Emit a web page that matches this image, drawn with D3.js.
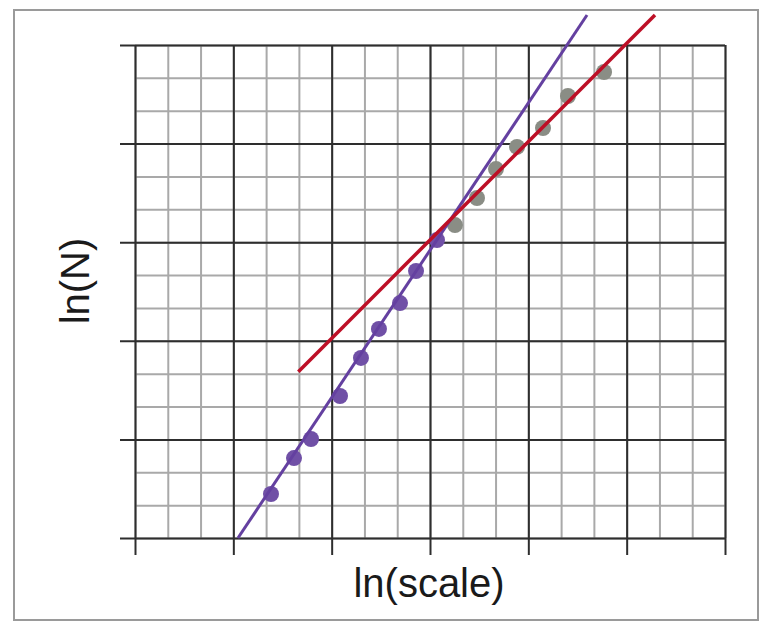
<!DOCTYPE html>
<html>
<head>
<meta charset="utf-8">
<script src="https://cdn.jsdelivr.net/npm/d3@7"></script>
<style>
  html, body { margin: 0; padding: 0; background: #fff; }
  svg { display: block; }
</style>
</head>
<body>
<svg id="chart" width="760" height="621"></svg>
<script>
// ---- data ----
const xMajorTicks = [0, 1, 2, 3, 4, 5, 6];
const yMajorTicks = [0, 1, 2, 3, 4, 5];
const xMinorTicks = d3.range(0, 19).map(i => i / 3);
const yMinorTicks = d3.range(0, 16).map(i => i / 3);

const smallScaleX = [1.383, 1.617, 1.790, 2.085, 2.298, 2.481, 2.695, 2.858, 3.071];
const smallScaleY = [0.446, 0.811, 1.004, 1.440, 1.826, 2.120, 2.383, 2.708, 3.022];

const largeScaleX = [3.254, 3.478, 3.671, 3.885, 4.149, 4.403, 4.770];
const largeScaleY = [3.174, 3.448, 3.742, 3.966, 4.158, 4.483, 4.726];

const purpleFitX = [1.047, 4.597];
const purpleFitY = [0.000, 5.304];
const redFitX = [1.661, 5.288];
const redFitY = [1.687, 5.304];

const xLabel = "ln(scale)";
const yLabel = "ln(N)";

// ---- layout ----
const svg = d3.select("#chart");
const pLeft = 135, pRight = 725, pTop = 45, pBottom = 538;
const x = d3.scaleLinear().domain([0, 6]).range([pLeft, pRight]);
const y = d3.scaleLinear().domain([0, 5]).range([pBottom, pTop]);

// frame
svg.append("rect")
  .attr("x", 14).attr("y", 10).attr("width", 744).attr("height", 610)
  .attr("fill", "#fff").attr("stroke", "#9a9a9a").attr("stroke-width", 2);

// minor grid
const minorX = svg.append("g").attr("transform", `translate(0,${pBottom})`)
  .call(d3.axisBottom(x).tickValues(xMinorTicks).tickSize(-(pBottom - pTop)).tickFormat(""));
const minorY = svg.append("g").attr("transform", `translate(${pLeft},0)`)
  .call(d3.axisLeft(y).tickValues(yMinorTicks).tickSize(-(pRight - pLeft)).tickFormat(""));
[minorX, minorY].forEach(g => {
  g.select(".domain").remove();
  g.selectAll(".tick line").attr("stroke", "#a9a9a9").attr("stroke-width", 2);
});

// major grid (extends past the plot as tick marks)
const majorX = svg.append("g").attr("transform", `translate(0,${pBottom + 17})`)
  .call(d3.axisBottom(x).tickValues(xMajorTicks).tickSize(-(pBottom + 17 - pTop)).tickFormat(""));
const majorY = svg.append("g").attr("transform", `translate(${pLeft - 15},0)`)
  .call(d3.axisLeft(y).tickValues(yMajorTicks).tickSize(-(pRight - pLeft + 15)).tickFormat(""));
[majorX, majorY].forEach(g => {
  g.select(".domain").remove();
  g.selectAll(".tick line").attr("stroke", "#2e2e2e").attr("stroke-width", 2);
});

// points
const smallPts = smallScaleX.map((v, i) => ({ x: v, y: smallScaleY[i] }));
const largePts = largeScaleX.map((v, i) => ({ x: v, y: largeScaleY[i] }));

svg.append("g").selectAll("circle").data(smallPts).join("circle")
  .attr("cx", d => x(d.x)).attr("cy", d => y(d.y)).attr("r", 8)
  .attr("fill", "#7050a6");
svg.append("g").selectAll("circle").data(largePts).join("circle")
  .attr("cx", d => x(d.x)).attr("cy", d => y(d.y)).attr("r", 8)
  .attr("fill", "#8a8d85");

// fit lines
const line = d3.line().x(d => x(d.x)).y(d => y(d.y));
const purpleFit = purpleFitX.map((v, i) => ({ x: v, y: purpleFitY[i] }));
const redFit = redFitX.map((v, i) => ({ x: v, y: redFitY[i] }));
svg.append("path").datum(purpleFit).attr("d", line)
  .attr("fill", "none").attr("stroke", "#6440a0").attr("stroke-width", 3);
svg.append("path").datum(redFit).attr("d", line)
  .attr("fill", "none").attr("stroke", "#bd0f26").attr("stroke-width", 3.5);

// labels
svg.append("text")
  .attr("x", 429).attr("y", 597)
  .attr("text-anchor", "middle")
  .attr("font-family", "Liberation Sans, Arial, sans-serif")
  .attr("font-size", 40).attr("fill", "#1a1a1a")
  .text(xLabel);
svg.append("text")
  .attr("transform", "translate(89,281) rotate(-90)")
  .attr("text-anchor", "middle")
  .attr("font-family", "Liberation Sans, Arial, sans-serif")
  .attr("font-size", 40).attr("fill", "#1a1a1a")
  .text(yLabel);
</script>
</body>
</html>
